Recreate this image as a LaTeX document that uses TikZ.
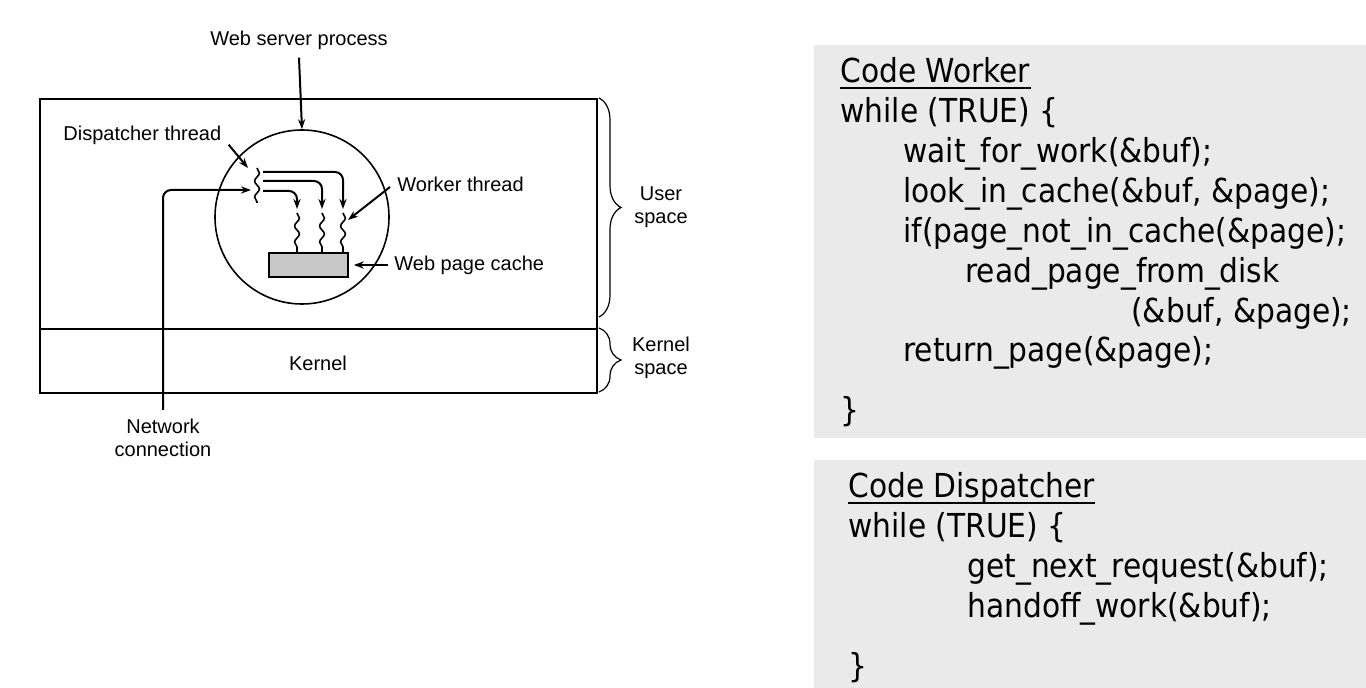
\documentclass[tikz,border=0pt]{standalone}
\usepackage{fontspec}
\setmainfont{Liberation Sans}
\newfontfamily\codefont{DejaVu Sans Condensed}
\usepackage{tikz}
\usetikzlibrary{arrows.meta,decorations.pathreplacing,decorations.pathmorphing}
\usepackage{xcolor}
\definecolor{codebg}{RGB}{234,234,234}
\definecolor{cachefill}{RGB}{200,200,200}

\tikzset{
  lbl/.style={font=\fontsize{10}{11.5}\selectfont, inner sep=0pt},
  arr/.style={line width=1pt, -{Stealth[length=5pt,width=3.6pt]}},
  thread/.style={line width=0.8pt, decorate, decoration={snake, segment length=8pt, amplitude=1.2pt}},
  spacebrace/.style={line width=0.6pt, decorate, decoration={brace, amplitude=11pt}},
  codeline/.style={font=\codefont\fontsize{16.5}{20}\selectfont, anchor=base west, inner sep=0pt},
  codebox/.style={fill=codebg, anchor=north west, inner sep=0pt, minimum width=276pt}
}

\begin{document}
\begin{tikzpicture}[x=0.5pt, y=-0.5pt]
  \useasboundingbox (0,0) rectangle (1366,688);
  % process and kernel
  \draw[line width=1pt] (40,99) rectangle (597,393);
  \draw[line width=1pt] (40,329) -- (597,329);
  \node[lbl] (kernel) at (318,363) {Kernel};
  \draw[spacebrace] (599,98) -- (599,317);
  \draw[spacebrace] (599,328) -- (599,392);
  \node[lbl, align=center] (uspace) at (661,207) {User\\space};
  \node[lbl, align=center] (kspace) at (661,358) {Kernel\\space};

  % web server process
  \node[circle, draw, line width=0.8pt, minimum size=87pt, inner sep=0pt] (proc) at (302,217) {};
  \node[lbl] (wsp) at (299,40) {Web server process};
  \draw[arr] ([yshift=-4pt]wsp.south) -- (proc.north);

  % dispatcher
  \coordinate (disp) at (257,168);
  \coordinate (dispt) at (248,168);
  \coordinate (dispin) at (251,190);
  \draw[thread] (disp) -- ++(0,35);
  \node[lbl, anchor=west] (dlab) at (63,135) {Dispatcher thread};
  \draw[arr] ([xshift=3.5pt]dlab.south east) -- (dispt);
  \node[lbl, align=center] (net) at (163,438) {Network\\connection};
  \draw[arr, rounded corners=4pt] ([yshift=4.5pt]net.north) |- (dispin);

  % workers and cache
  \node[draw, fill=cachefill, line width=0.8pt, minimum width=39.5pt, minimum height=12pt, inner sep=0pt] (cache) at (308.5,265) {};
  \foreach \i/\x/\y in {1/297/191, 2/322/181, 3/343/172}{
    \coordinate (w\i) at (\x,209);
    \coordinate (d\i) at (263,\y);
    \draw[arr, rounded corners=4pt] (d\i) -| (w\i);
    \draw[thread] (\x,213) -- (\x,253);
  }
  \coordinate (wtip) at (348,220);
  \node[lbl, anchor=west] (wlab) at (397,184) {Worker thread};
  \draw[arr] ([xshift=-3.5pt,yshift=-1.5pt]wlab.west) -- (wtip);
  \node[lbl, anchor=west] (clab) at (394,265) {Web page cache};
  \draw[arr] ([xshift=-3pt]clab.west) -- ([xshift=2.5pt]cache.east);

  % code worker
  \node[codebox, minimum height=196.5pt] (workerbox) at (814,45) {};
  \node[codeline] (wk0) at (840,83) {Code Worker};
  \draw[line width=0.9pt] ([yshift=-2.5pt]wk0.base west) -- ([yshift=-2.5pt]wk0.base east);
  \node[codeline] (wk1) at (840,123) {while (TRUE) \{};
  \node[codeline] (wk2) at (903,163) {wait\_for\_work(\&buf);};
  \node[codeline] (wk3) at (903,203) {look\_in\_cache(\&buf, \&page);};
  \node[codeline] (wk4) at (903,243) {if(page\_not\_in\_cache(\&page);};
  \node[codeline] (wk5) at (965,283) {read\_page\_from\_disk};
  \node[codeline] (wk6) at (1131,323) {(\&buf, \&page);};
  \node[codeline] (wk7) at (903,362) {return\_page(\&page);};
  \node[codeline] (wk8) at (840,422) {\}};

  % code dispatcher
  \node[codebox, minimum height=114pt] (dispbox) at (814,460) {};
  \node[codeline] (dp0) at (848,498) {Code Dispatcher};
  \draw[line width=0.9pt] ([yshift=-2.5pt]dp0.base west) -- ([yshift=-2.5pt]dp0.base east);
  \node[codeline] (dp1) at (848,538) {while (TRUE) \{};
  \node[codeline] (dp2) at (967,578) {get\_next\_request(\&buf);};
  \node[codeline] (dp3) at (967,618) {handoff\_work(\&buf);};
  \node[codeline] (dp4) at (848,678) {\}};
\end{tikzpicture}
\end{document}
